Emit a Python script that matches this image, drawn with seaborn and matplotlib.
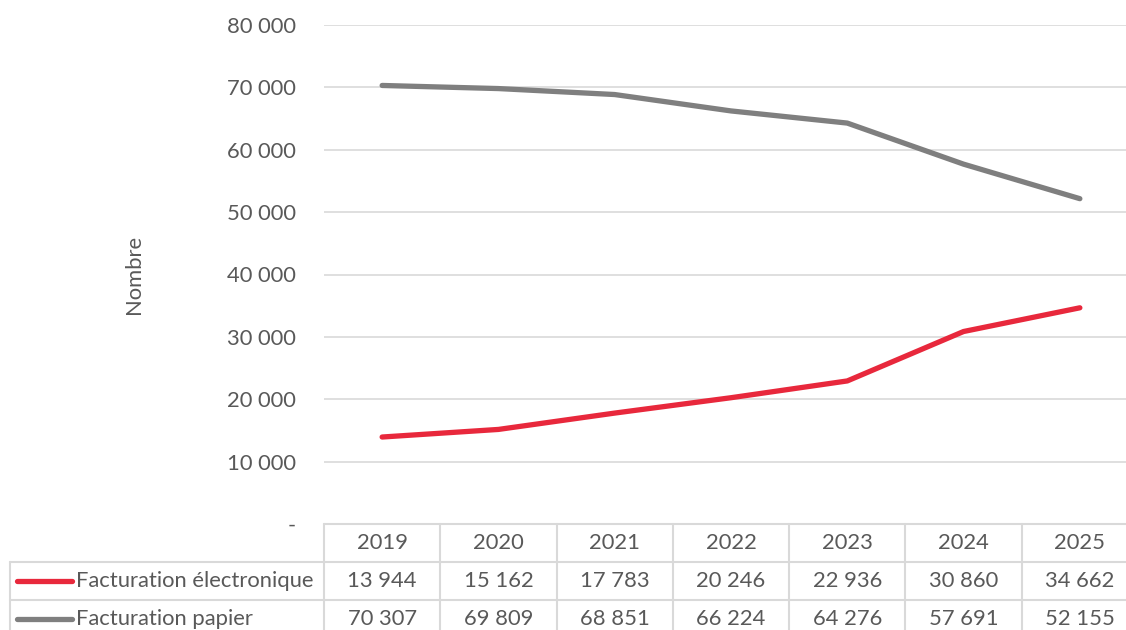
import matplotlib
matplotlib.use("Agg")
import matplotlib.pyplot as plt
import matplotlib.transforms as mtransforms
import seaborn as sns
import pandas as pd

years = [2019, 2020, 2021, 2022, 2023, 2024, 2025]
electronique = [13944, 15162, 17783, 20246, 22936, 30860, 34662]
papier = [70307, 69809, 68851, 66224, 64276, 57691, 52155]
series_names = ["Facturation électronique", "Facturation papier"]
colors = ["#E8283C", "#7F7F7F"]

df = pd.DataFrame({
    "pos": list(range(len(years))) * 2,
    "value": electronique + papier,
    "serie": [series_names[0]] * len(years) + [series_names[1]] * len(years),
})

sns.set_style("white")
plt.rcParams["font.family"] = ["Lato", "DejaVu Sans"]
text_color = "#595959"
grid_color = "#D9D9D9"
fs = 15.8

fig = plt.figure(figsize=(11.26, 6.3), dpi=100)
ax = fig.add_axes([324 / 1126, 1 - 524 / 630, 814 / 1126, 499 / 630])

sns.lineplot(data=df, x="pos", y="value", hue="serie", palette=colors,
             linewidth=3.8, legend=False, ax=ax)
for line in ax.lines:
    line.set_solid_capstyle("round")

ax.set_xlim(-0.5, len(years) - 0.5)
ax.set_ylim(0, 80000)
ax.set_yticks(range(0, 80001, 10000))
ax.set_yticklabels(["-" if v == 0 else f"{v:,}".replace(",", " ") for v in range(0, 80001, 10000)],
                   color=text_color, fontsize=fs)
ax.tick_params(axis="y", length=0, pad=20)
ax.set_xticks([])
ax.set_xlabel("")
ax.set_ylabel("Nombre", color=text_color, fontsize=fs, labelpad=60)
ax.grid(axis="y", color=grid_color, linewidth=1.2)
for s in ax.spines.values():
    s.set_visible(False)

# data table below the axes
trans = mtransforms.blended_transform_factory(ax.transData, ax.transAxes)
px = 1 / 499.0
row_tops = [0, -38 * px, -76 * px, -114 * px]
line_kw = dict(color=grid_color, linewidth=1.5, clip_on=False)

ax.plot([-0.5, len(years) - 0.5], [0, 0], transform=trans, **line_kw)
for yb in row_tops[1:3]:
    ax.plot([-0.5, len(years) - 0.5], [yb, yb], transform=trans, **line_kw)
    fig.add_artist(plt.Line2D([10 / 1126, 324 / 1126], [1 - (524 - yb * 499) / 630] * 2,
                              color=grid_color, linewidth=1.5))
for i in range(len(years) + 1):
    ax.plot([i - 0.5, i - 0.5], [0, row_tops[3]], transform=trans, **line_kw)
fig.add_artist(plt.Line2D([10 / 1126] * 2, [1 - 562 / 630, 0], color=grid_color, linewidth=1.5))

rows = [[str(y) for y in years],
        [f"{v:,}".replace(",", " ") for v in electronique],
        [f"{v:,}".replace(",", " ") for v in papier]]
for r, labels in enumerate(rows):
    yc = (row_tops[r] + row_tops[r + 1]) / 2
    for i, lab in enumerate(labels):
        ax.text(i, yc, lab, transform=trans, ha="center", va="center",
                color=text_color, fontsize=fs, clip_on=False)

for k, name in enumerate(series_names):
    yc_px = 524 + 38 * (k + 1) + 19
    yf = 1 - yc_px / 630
    fig.add_artist(plt.Line2D([17 / 1126, 72 / 1126], [yf, yf], color=colors[k],
                              linewidth=3.8, solid_capstyle="round"))
    fig.text(76 / 1126, yf, name, ha="left", va="center", color=text_color, fontsize=fs)

fig.savefig("out.png", dpi=100)
